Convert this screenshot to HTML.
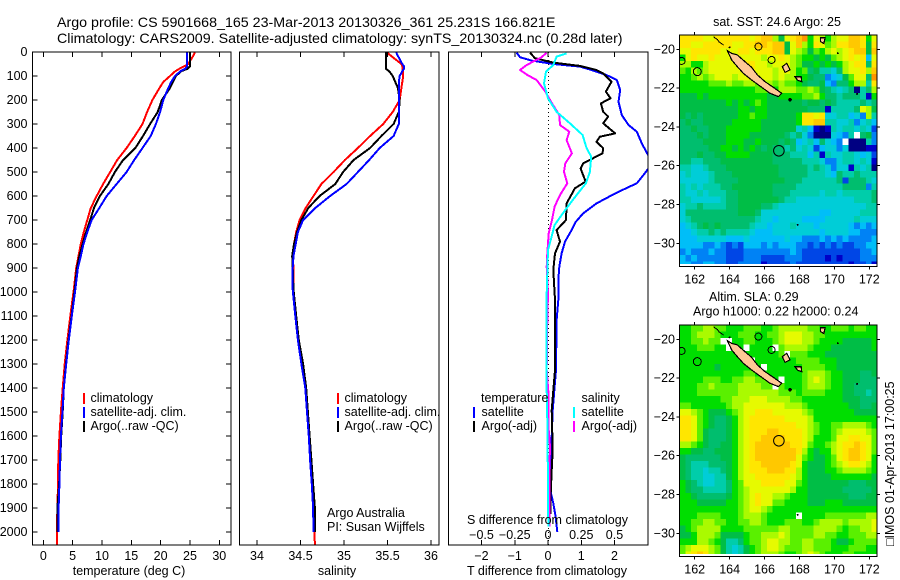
<!DOCTYPE html>
<html lang="en">
<head>
<meta charset="utf-8">
<title>Argo profile chart</title>
<style>
html,body{margin:0;padding:0;background:#fff;}
body{width:900px;height:580px;overflow:hidden;}
svg{display:block;}
text{font-family:"Liberation Sans",sans-serif;font-size:12.5px;fill:#000;}
.title{font-size:14.25px;}
</style>
</head>
<body>
<svg id="chart" xmlns="http://www.w3.org/2000/svg" width="900" height="580" viewBox="0 0 900 580">
  <defs>
    <clipPath id="clip-temp"><rect x="32" y="52" width="199" height="493"/></clipPath>
    <clipPath id="clip-sal"><rect x="239.5" y="52" width="199.5" height="493"/></clipPath>
    <clipPath id="clip-diff"><rect x="448.5" y="52" width="199.5" height="493"/></clipPath>
    <clipPath id="clip-sst"><rect x="679.5" y="35" width="197" height="229"/></clipPath>
    <clipPath id="clip-sla"><rect x="679.5" y="325" width="197" height="229"/></clipPath>
  </defs>
  <text class="title" x="57" y="27">Argo profile: CS 5901668_165 23-Mar-2013 20130326_361 25.231S 166.821E</text>
  <text class="title" x="57" y="43">Climatology: CARS2009. Satellite-adjusted climatology: synTS_20130324.nc (0.28d later)</text>
  <g id="plots"></g>

  <g>
    <rect x="83" y="393" width="2" height="11" fill="#ff0000"/>
    <text x="90.5" y="402">climatology</text>
    <rect x="83" y="407" width="2" height="11" fill="#0000ff"/>
    <text x="90.5" y="416">satellite-adj. clim.</text>
    <rect x="83" y="421" width="2" height="11" fill="#000"/>
    <text x="90.5" y="430">Argo(..raw -QC)</text>
  </g>
  <g>
    <rect x="337" y="393" width="2" height="11" fill="#ff0000"/>
    <text x="344.5" y="402">climatology</text>
    <rect x="337" y="407" width="2" height="11" fill="#0000ff"/>
    <text x="344.5" y="416">satellite-adj. clim.</text>
    <rect x="337" y="421" width="2" height="11" fill="#000"/>
    <text x="344.5" y="430">Argo(..raw -QC)</text>
  </g>
  <text x="327" y="517">Argo Australia</text>
  <text x="327" y="531">PI: Susan Wijffels</text>

  <g>
    <text x="481" y="402">temperature</text>
    <rect x="473" y="407" width="2" height="11" fill="#0000ff"/>
    <text x="481.5" y="416">satellite</text>
    <rect x="473" y="421" width="2" height="11" fill="#000"/>
    <text x="481.5" y="430">Argo(-adj)</text>
    <text x="581.5" y="402">salinity</text>
    <rect x="573" y="407" width="2" height="11" fill="#00ffff"/>
    <text x="581.5" y="416">satellite</text>
    <rect x="573" y="421" width="2" height="11" fill="#ff00ff"/>
    <text x="581.5" y="430">Argo(-adj)</text>
  </g>
  <text x="129" y="575" text-anchor="middle">temperature (deg C)</text>
  <text x="337" y="575" text-anchor="middle">salinity</text>
  <text x="547" y="575" text-anchor="middle">T difference from climatology</text>
  <text x="547.5" y="524" text-anchor="middle">S difference from climatology</text>
  <text x="777" y="26" text-anchor="middle">sat. SST: 24.6 Argo: 25</text>
  <text x="709" y="301">Altim. SLA: 0.29</text>
  <text x="693" y="315.5">Argo h1000: 0.22 h2000: 0.24</text>
  <text transform="translate(894,546) rotate(-90)" x="0" y="0">□IMOS 01-Apr-2013 17:00:25</text>
</svg>

<script>
// ---- profile data (depth levels in metres) ----
const profileDepths = [0,10,50,60,70,80,100,125,150,200,250,300,350,400,450,500,550,600,650,700,750,800,850,900,990,1100,1200,1300,1400,1500,1600,1700,1800,1900,2000,2054];
const tempClim = [25.8,25.7,24.7,24.0,23.2,22.5,21.6,20.45,19.8,18.6,17.7,16.9,15.6,14.2,12.6,11.4,10.2,9.1,8.1,7.5,6.9,6.4,6.0,5.6,5.2,4.6,4.1,3.65,3.3,3.0,2.75,2.55,2.5,2.4,2.3,2.3];
const tempSat = [24.5,24.5,24.5,24.5,24.2,23.4,22.45,21.8,21.3,20.45,19.9,19.2,18.3,16.9,15.5,14.2,12.5,10.8,9.55,8.25,7.5,6.85,6.4,5.9,5.45,4.85,4.35,3.9,3.5,3.25,3.0,2.85,2.75,2.6,2.6,null];
const tempArgo = [25,25,25,25,24.6,23.5,22.6,22.1,21.6,20.2,19.5,18.2,17,15.7,13.6,12.2,11.1,9.65,8.65,8,7.3,6.7,6.15,5.75,5.35,4.8,4.3,3.85,3.5,3.3,3.05,2.9,2.7,2.4,2.4,null];
const salClim = [35.5,35.52,35.66,35.67,35.67,35.68,35.68,35.67,35.66,35.64,35.56,35.45,35.3,35.16,35.01,34.88,34.74,34.65,34.56,34.49,34.45,34.425,34.41,34.42,34.42,34.45,34.48,34.52,34.56,34.58,34.6,34.62,34.64,34.65,34.66,34.665];
const salSat = [35.6,35.61,35.67,35.69,35.69,35.67,35.64,35.63,35.63,35.63,35.63,35.63,35.57,35.41,35.29,35.16,35.03,34.84,34.67,34.53,34.47,34.445,34.42,34.41,34.41,34.44,34.47,34.51,34.555,34.575,34.595,34.61,34.63,34.645,34.65,null];
const salArgo = [35.48,35.48,35.48,35.48,35.48,35.52,35.56,35.59,35.62,35.64,35.63,35.57,35.43,35.3,35.11,34.99,34.9,34.72,34.59,34.51,34.46,34.425,34.405,34.41,34.42,34.45,34.48,34.53,34.565,34.585,34.605,34.625,34.645,34.665,34.665,null];

// ---- difference profiles (each with its own depth levels) ----
const dtSatDepths = [3,22,36,50,61,75,96,117,158,207,263,304,332,381,432,457,485,513,547,586,631,672,707,742,790,839,895,950,1033,1117,1325,1492,1603,1742,1839,1880,1936,2000];
const dtSatValues = [-0.94,-0.84,-0.49,0.16,0.96,1.31,1.76,2.07,2.17,2.12,2.22,2.42,2.67,2.82,3.02,3.1,3.02,2.87,2.67,2.07,1.46,1.06,0.84,0.71,0.51,0.41,0.34,0.31,0.31,0.26,0.24,0.14,0.11,0.09,0.09,0.16,0.23,0.28];
const dtArgoDepths = [3,26,44,58,75,89,124,165,193,214,249,269,297,339,353,374,401,422,464,485,540,568,631,700,742,790,839,908,1033,1117,1325,1492,1658,1742,1839,1925];
const dtArgoValues = [-0.54,-0.39,0.16,0.96,1.46,1.66,1.91,1.74,1.88,1.59,1.66,1.81,1.66,2.02,1.56,1.46,1.66,1.64,1.06,0.98,1.13,0.81,0.56,0.54,0.26,0.36,0.21,0.16,0.21,0.21,0.21,0.11,0.14,0.11,0.08,0.08];
const dsArgoDepths = [3,22,54,75,96,117,165,214,263,304,332,367,422,464,499,547,596,644,700,756,839,895,1006,1117,1325,1436,1575,1645,1742,1978];
const dsArgoValues = [-0.01,-0.05,-0.16,-0.21,-0.155,-0.085,-0.02,0.03,0.085,0.09,0.16,0.14,0.18,0.13,0.12,0.145,0.09,0.05,0.03,0.005,-0.005,-0.01,0,-0.005,-0.01,0.005,0.005,0.015,0.01,0.01];
const dsSatDepths = [6,19,54,82,131,193,249,297,346,401,436,499,547,603,658,721,763,825,922,1006,1117,1325,1408,1533,1645,1742,1978];
const dsSatValues = [0.14,0.065,0.04,-0.015,-0.03,0,0.065,0.165,0.26,0.29,0.325,0.315,0.285,0.205,0.13,0.05,0.03,0,-0.005,-0.01,-0.01,-0.01,-0.01,-0.005,-0.005,0,0.002];

// ---- tick labels ----
const depthTicks = [0,100,200,300,400,500,600,700,800,900,1000,1100,1200,1300,1400,1500,1600,1700,1800,1900,2000];
const tempTicks = [0,5,10,15,20,25,30];
const salTicks = [34,34.5,35,35.5,36];
const dtTicks = [-2,-1,0,1,2];
const dsTicks = [-0.5,-0.25,0,0.25,0.5];
const lonTicks = [162,164,166,168,170,172];
const latTicks = [-20,-22,-24,-26,-28,-30];

// ---- map values: colour-scale levels, rows north to south, 1/3 degree cells, -1 = no data ----
const sstLevels = [
[13,13,13,13,12,12,13,13,13,13,13,13,12,13,14,14,11,8,12,13,14,15,9,12,11,9,11,12,12,14,14,13,9,12],
[13,13,12,12,13,13,13,13,13,12,12,13,13,14,14,13,14,14,8,12,14,11,9,13,12,10,11,13,13,14,14,13,8,13],
[12,12,13,13,13,13,13,12,12,12,13,13,12,13,13,13,14,14,8,12,11,10,8,10,9,11,12,11,12,13,14,14,8,14],
[9,12,13,12,12,13,12,12,12,12,12,12,12,12,11,12,12,13,12,11,10,9,9,8,9,8,10,11,12,13,12,13,4,12],
[11,11,9,9,11,12,12,12,12,12,12,13,13,12,12,11,12,12,12,11,10,8,8,9,8,9,8,9,11,12,13,13,7,13],
[10,9,11,10,11,12,12,12,12,12,12,12,13,12,12,12,11,12,12,11,9,10,7,8,6,6,5,7,11,12,12,13,11,14],
[9,9,10,11,10,11,12,12,12,11,12,12,12,12,12,12,11,12,11,11,9,9,8,7,7,3,4,5,8,10,12,12,7,15],
[9,9,9,9,9,10,10,10,11,10,10,11,11,10,11,11,10,11,10,10,9,8,7,7,8,4,3,7,7,9,11,11,6,13],
[9,9,9,9,9,9,9,9,9,9,9,9,9,10,10,10,9,11,11,11,10,10,11,10,8,7,6,5,6,7,0,6,7,11],
[8,8,8,9,8,9,9,9,9,9,9,9,9,9,9,8,8,9,9,9,9,10,10,11,9,7,7,6,7,7,7,6,1,9],
[8,8,8,8,8,8,8,8,9,8,9,8,9,10,9,8,8,8,8,8,8,7,8,8,7,8,7,6,6,6,6,7,6,7],
[8,8,8,8,8,8,8,8,8,8,9,9,8,9,9,8,8,8,8,8,8,8,7,7,7,1,6,6,6,6,7,12,11,8],
[8,7,8,7,8,8,8,8,8,8,9,9,10,9,9,8,8,8,8,8,9,13,13,12,13,5,5,6,6,4,5,3,11,6],
[7,8,7,7,8,8,8,8,8,9,9,9,9,9,8,8,8,8,8,8,9,13,13,14,14,6,6,5,5,6,3,5,6,4],
[7,7,8,7,7,8,8,8,9,9,9,9,9,9,8,8,8,8,8,8,5,6,4,1,0,1,6,5,6,6,5,6,5,2],
[7,7,7,8,7,8,8,8,9,9,9,9,8,8,8,8,8,8,7,6,7,5,3,0,0,0,5,4,3,6,-1,7,8,3],
[7,7,7,7,8,8,8,8,9,9,9,8,8,9,8,8,8,7,8,7,4,5,6,4,7,5,4,3,-1,0,0,0,6,3],
[7,7,7,7,7,8,8,9,9,8,9,8,9,8,7,8,7,7,6,7,5,6,5,2,4,5,5,3,5,0,0,0,1,1],
[7,7,7,8,7,7,8,8,9,9,9,9,8,8,8,8,7,7,7,6,6,6,4,6,1,6,5,5,6,6,5,4,5,2],
[7,7,6,6,7,7,7,8,8,8,8,8,8,8,8,8,7,7,7,7,7,6,6,6,5,3,3,5,6,6,5,6,5,1],
[6,6,5,5,6,7,7,7,8,8,8,8,8,8,8,8,8,7,7,7,7,7,6,7,6,5,3,5,5,1,6,5,6,0],
[5,6,5,5,5,6,7,7,7,8,8,8,8,8,8,8,8,7,7,7,7,7,6,6,6,5,4,7,6,6,7,6,6,6],
[5,5,5,5,5,6,7,7,7,7,8,8,8,8,8,8,8,8,7,7,7,6,6,6,6,6,6,7,2,7,7,7,6,5],
[6,5,6,5,6,6,6,7,7,8,8,8,8,8,8,8,7,7,7,7,6,6,6,6,6,6,6,6,7,7,7,7,3,6],
[6,5,5,6,5,6,6,6,7,7,8,8,8,8,8,8,7,7,7,6,6,6,6,6,5,6,6,5,6,6,6,6,6,7],
[6,6,5,5,5,5,5,6,7,7,8,8,8,8,8,8,8,7,6,6,5,5,5,5,5,5,5,5,5,5,6,6,6,7],
[5,6,6,7,6,6,6,6,7,7,8,8,8,8,7,7,6,5,5,5,5,5,5,5,5,5,5,5,5,5,5,5,6,6],
[5,7,7,7,7,7,7,7,7,7,8,8,8,7,5,5,5,5,5,5,5,5,5,5,4,4,5,5,5,5,5,6,6,6],
[5,6,7,7,7,7,7,7,7,7,7,7,7,6,5,5,4,5,5,5,5,4,4,4,4,5,5,5,5,5,6,5,5,5],
[4,5,6,7,8,7,8,7,7,7,7,7,6,5,5,4,5,5,5,6,5,5,5,4,5,5,5,5,5,4,3,4,3,4],
[4,4,5,6,6,7,6,7,6,6,6,6,5,4,4,4,5,5,5,5,5,5,5,5,4,5,5,5,5,4,4,3,3,3],
[4,4,4,5,5,5,5,5,4,4,4,5,4,4,4,4,4,4,5,4,4,3,3,3,4,3,4,3,4,3,3,3,3,4],
[4,4,4,4,3,3,4,3,2,3,2,4,4,4,3,4,3,4,4,4,3,3,2,3,2,3,2,3,2,2,3,3,4,4],
[3,4,3,3,3,4,3,3,2,2,2,3,3,3,3,3,3,3,3,4,3,2,2,2,2,2,2,2,2,2,2,3,3,4],
[4,3,4,3,3,3,3,3,2,2,2,3,3,3,2,2,2,2,3,3,3,2,2,2,2,1,2,1,2,2,2,3,3,3],
[4,4,3,3,4,4,3,3,2,2,3,3,3,3,1,2,2,2,2,3,2,2,2,2,2,2,2,2,2,1,2,2,3,1]
];
const slaLevels = [
[9,9,10,10,11,11,10,10,9,9,9,10,10,10,9,9,10,11,11,11,11,11,10,10,9,9,10,10,10,9,10,10,9,9],
[9,9,10,11,11,11,10,9,9,9,10,10,10,9,9,10,10,11,12,12,12,11,11,10,10,9,9,9,9,9,9,9,9,9],
[9,9,10,10,11,10,10,-1,-1,9,9,10,10,9,9,9,10,11,12,12,12,11,11,10,9,9,9,9,8,8,8,8,8,9],
[9,9,9,10,10,10,9,9,-1,-1,9,-1,9,9,9,9,-1,10,11,11,11,11,10,9,9,9,8,8,8,8,8,8,8,9],
[9,9,9,9,9,9,9,9,9,9,9,9,9,9,9,9,9,10,-1,10,10,10,9,9,9,8,8,8,8,8,8,8,8,8],
[9,9,9,9,9,9,9,9,9,9,9,9,-1,9,9,9,9,9,9,9,10,10,10,10,9,9,9,8,8,8,8,8,8,8],
[9,9,9,9,9,9,8,9,9,9,9,9,9,9,-1,9,9,9,9,9,9,10,10,10,10,9,9,8,8,8,8,8,8,8],
[9,9,9,9,9,9,9,9,9,9,9,10,10,9,9,9,9,9,9,9,9,10,11,11,11,10,9,9,8,8,8,7,7,8],
[9,9,9,9,10,10,10,9,9,10,10,11,11,10,10,10,9,-1,9,9,9,10,11,12,11,10,9,9,8,8,8,7,7,7],
[9,9,9,10,10,11,10,10,10,10,11,11,11,11,10,10,-1,10,9,9,9,10,11,11,11,10,9,9,8,8,7,7,7,7],
[9,9,9,10,10,10,10,10,10,10,11,11,11,11,11,11,11,10,10,10,9,10,10,10,10,9,9,9,8,8,7,7,6,7],
[9,9,9,9,9,9,9,10,10,11,11,11,12,12,12,11,11,11,11,10,10,9,9,9,9,9,9,9,8,8,8,7,7,7],
[10,10,9,9,9,9,9,9,10,11,11,12,12,12,12,12,12,12,11,11,11,10,9,9,9,9,9,9,9,8,8,7,7,8],
[12,12,11,10,9,8,8,8,9,10,11,12,12,13,13,13,12,12,12,12,12,11,10,9,9,9,9,9,9,9,8,8,8,8],
[13,13,12,10,9,8,7,7,8,9,11,12,13,13,13,13,13,13,12,12,12,12,11,9,9,9,9,9,9,9,9,9,9,9],
[13,13,12,10,9,8,7,7,8,9,11,12,13,13,13,13,13,13,13,13,12,12,11,10,9,9,10,10,11,11,11,11,10,9],
[13,13,12,10,8,7,7,7,8,9,11,12,13,13,13,14,14,13,13,13,13,12,11,10,9,9,10,11,12,12,12,12,11,10],
[13,13,12,10,8,7,7,7,8,9,11,12,13,13,14,14,14,14,13,13,13,12,11,9,9,9,10,12,12,13,13,12,12,10],
[11,11,10,9,8,7,7,8,8,9,11,12,13,14,14,14,14,14,14,13,13,12,10,9,9,10,11,12,13,13,14,13,12,10],
[9,9,8,8,7,7,8,8,8,9,11,12,13,14,14,14,14,14,14,14,13,11,9,8,9,9,11,12,13,14,14,13,12,10],
[8,7,7,7,7,7,7,8,8,9,11,12,13,14,14,14,14,14,14,14,12,10,9,8,8,9,10,12,13,14,14,13,12,9],
[8,7,6,6,6,7,7,7,8,9,11,12,13,13,14,14,14,14,14,13,12,9,8,8,8,9,10,11,12,13,13,12,11,9],
[8,7,6,6,5,6,6,7,8,9,11,12,13,13,13,14,14,14,13,13,11,9,8,8,8,9,9,10,11,11,11,11,10,9],
[8,7,6,6,5,5,6,6,8,9,11,12,12,13,13,13,13,13,13,12,11,9,8,8,8,8,9,9,9,9,9,9,9,8],
[9,8,7,6,5,5,6,6,7,9,10,12,12,12,13,13,13,13,12,12,10,9,8,8,8,8,8,8,8,7,7,7,8,8],
[9,8,7,7,6,6,6,6,7,9,10,11,12,12,12,12,12,12,12,11,9,9,8,8,8,8,8,8,7,7,7,7,7,8],
[9,9,8,7,7,7,7,7,8,9,10,11,12,13,12,12,11,11,10,9,9,9,8,8,8,8,8,8,8,7,7,7,8,8],
[9,9,9,8,8,8,8,8,9,9,10,11,12,13,12,12,10,10,9,9,9,9,8,8,8,9,9,9,8,8,8,8,8,8],
[9,9,9,9,9,9,9,9,9,9,10,11,12,12,11,10,9,9,9,9,9,9,9,9,9,9,9,9,9,9,9,9,9,9],
[9,9,9,10,10,10,10,9,9,9,10,11,11,11,10,9,9,9,9,9,-1,9,9,9,9,10,10,10,10,10,10,10,11,11],
[9,9,10,10,11,11,10,10,9,9,10,10,11,11,10,9,9,9,10,10,10,9,9,10,11,11,11,11,10,11,11,11,11,12],
[8,9,10,11,11,11,11,9,9,9,9,10,10,10,10,10,10,11,11,10,10,10,10,11,11,11,11,10,9,10,10,11,11,12],
[8,8,9,11,11,11,10,8,8,8,8,9,10,10,11,11,11,12,11,10,10,10,10,11,11,10,10,9,9,10,10,10,11,11],
[9,9,9,11,11,10,9,8,6,6,7,9,10,10,11,12,12,11,11,10,10,11,11,10,10,10,9,8,8,9,10,10,10,10],
[10,11,12,12,12,11,10,8,6,5,6,8,9,10,11,12,12,11,10,10,10,11,11,10,10,10,9,9,9,10,10,10,9,9],
[10,12,13,14,13,11,10,8,6,5,6,8,9,10,11,11,11,10,9,9,10,11,12,11,10,9,9,9,10,10,9,9,9,9]
];

// ---- coastline geography (lon, lat) ----
const mainIslandLon = [163.87,164.12,164.44,164.88,165.26,165.59,166.03,166.50,166.98,166.79,166.31,165.84,165.26,164.79,164.44,164.12];
const mainIslandLat = [-20.07,-20.21,-20.29,-20.64,-20.93,-21.32,-21.67,-21.96,-22.27,-22.44,-22.27,-21.96,-21.58,-21.24,-20.89,-20.55];
const ouveaLon = [167.02,167.27,167.46,167.17];
const ouveaLat = [-20.89,-20.72,-21.06,-21.19];
const lifouLon = [167.74,168.1,168.13,167.9];
const lifouLat = [-21.41,-21.42,-21.67,-21.6];
const vanuatuLon = [169.2,169.47,169.4,169.2];
const vanuatuLat = [-19.4,-19.4,-19.7,-19.6];
const reefLon = [163.07,163.3,163.4,163.65];
const reefLat = [-19.35,-19.5,-19.62,-19.78];
const ringIslandLon = [165.65,166.4,162.15,161.25];
const ringIslandLat = [-19.86,-20.55,-21.15,-20.6];
const ringIslandRadius = [3.5,3.5,4,3.5];
const dotIslandLon = [167.46,167.9,164.0,170.2,171.3];
const dotIslandLat = [-22.6,-29.05,-19.9,-20.2,-22.3];
const argoLon = 166.821;
const argoLat = -25.231;

const palette = ['#000082','#0000c8','#0046e6','#0082f5','#00bef8','#00cdd7','#00cdaa','#00be6e','#00be46','#00de00','#5af000','#aafa00','#e6fa00','#ffe600','#ffc800','#ff9600'];

// ---- axis functions ----
const yDepth = d => 52 + d * 0.24;
const xTemp = t => 43.3 + t * 5.867;
const xSal = s => 257 + (s - 34) * 87;
const xDiffT = v => 548 + v * 33.25;
const xDiffS = v => 548 + v * 133;
const xLon = lon => 694.7 + (lon - 162) * 17.46;
const yLatSst = lat => 49.3 + (-20 - lat) * 19.4;
const yLatSla = lat => 339.3 + (-20 - lat) * 19.4;

const NS = 'http://www.w3.org/2000/svg';
const plots = document.getElementById('plots');

function make(tag, parent, name, attrs) {
  const el = document.createElementNS(NS, tag);
  
  
  for (const k in attrs) el.setAttribute(k, attrs[k]);
  parent.appendChild(el);
  return el;
}
function tickLine(parent, name, x1, y1, x2, y2) {
  make('line', parent, name, {x1: x1, y1: y1, x2: x2, y2: y2, stroke: '#000', 'stroke-width': 1, 'shape-rendering': 'crispEdges'});
}
function label(parent, name, x, y, str, anchor) {
  const t = make('text', parent, name, {x: x, y: y, 'text-anchor': anchor || 'middle'});
  t.textContent = str;
  return t;
}
function fmtMinus(v) { return String(v).replace('-', '\u2212'); }

function drawProfile(parent, name, depths, values, xFn, colour, clip) {
  const pts = [];
  for (let i = 0; i < depths.length; i++) {
    if (values[i] === null) continue;
    pts.push(xFn(values[i]).toFixed(1) + ',' + yDepth(depths[i]).toFixed(1));
  }
  make('polyline', parent, name, {points: pts.join(' '), fill: 'none', stroke: colour, 'stroke-width': 2, 'stroke-linejoin': 'round', 'shape-rendering': 'crispEdges', 'clip-path': 'url(#' + clip + ')'});
}
function panelBox(parent, name, x, w) {
  make('rect', parent, name, {x: x, y: 52, width: w, height: 493, fill: 'none', stroke: '#000', 'stroke-width': 1, 'shape-rendering': 'crispEdges'});
}

// temperature panel
const gTemp = make('g', plots, 'temperature-panel', {});
drawProfile(gTemp, 'temperature-climatology-line', profileDepths, tempClim, xTemp, '#ff0000', 'clip-temp');
drawProfile(gTemp, 'temperature-argo-line', profileDepths, tempArgo, xTemp, '#000000', 'clip-temp');
drawProfile(gTemp, 'temperature-satellite-line', profileDepths, tempSat, xTemp, '#0000ff', 'clip-temp');
panelBox(gTemp, 'temperature-panel-frame', 32.5, 198.5);
depthTicks.forEach(d => {
  tickLine(gTemp, 'depth-tick-left', 32.5, yDepth(d), 37.5, yDepth(d));
  tickLine(gTemp, 'depth-tick-right', 226, yDepth(d), 231, yDepth(d));
  label(gTemp, 'depth-tick-label', 27.5, yDepth(d) + 4, d, 'end');
});
tempTicks.forEach(t => {
  tickLine(gTemp, 'temperature-tick-top', xTemp(t), 52, xTemp(t), 57);
  tickLine(gTemp, 'temperature-tick-bottom', xTemp(t), 540, xTemp(t), 545);
  label(gTemp, 'temperature-tick-label', xTemp(t), 560, t);
});

// salinity panel
const gSal = make('g', plots, 'salinity-panel', {});
drawProfile(gSal, 'salinity-climatology-line', profileDepths, salClim, xSal, '#ff0000', 'clip-sal');
drawProfile(gSal, 'salinity-argo-line', profileDepths, salArgo, xSal, '#000000', 'clip-sal');
drawProfile(gSal, 'salinity-satellite-line', profileDepths, salSat, xSal, '#0000ff', 'clip-sal');
panelBox(gSal, 'salinity-panel-frame', 239.5, 199.5);
salTicks.forEach(s => {
  tickLine(gSal, 'salinity-tick-top', xSal(s), 52, xSal(s), 57);
  tickLine(gSal, 'salinity-tick-bottom', xSal(s), 540, xSal(s), 545);
  label(gSal, 'salinity-tick-label', xSal(s), 560, s);
});

// difference panel
const gDiff = make('g', plots, 'difference-panel', {});
make('line', gDiff, 'zero-difference-line', {x1: 548.5, y1: 52, x2: 548.5, y2: 545, stroke: '#000', 'stroke-width': 1, 'stroke-dasharray': '1 3', 'shape-rendering': 'crispEdges'});
drawProfile(gDiff, 'temperature-diff-satellite-line', dtSatDepths, dtSatValues, xDiffT, '#0000ff', 'clip-diff');
drawProfile(gDiff, 'temperature-diff-argo-line', dtArgoDepths, dtArgoValues, xDiffT, '#000000', 'clip-diff');
drawProfile(gDiff, 'salinity-diff-argo-line', dsArgoDepths, dsArgoValues, xDiffS, '#ff00ff', 'clip-diff');
drawProfile(gDiff, 'salinity-diff-satellite-line', dsSatDepths, dsSatValues, xDiffS, '#00ffff', 'clip-diff');
panelBox(gDiff, 'difference-panel-frame', 448.5, 199.5);
dtTicks.forEach(v => {
  tickLine(gDiff, 't-diff-tick-top', xDiffT(v), 52, xDiffT(v), 57);
  tickLine(gDiff, 't-diff-tick-bottom', xDiffT(v), 540, xDiffT(v), 545);
  label(gDiff, 't-diff-tick-label', xDiffT(v), 560, fmtMinus(v));
});
dsTicks.forEach(v => {
  label(gDiff, 's-diff-tick-label', xDiffS(v), 539, fmtMinus(v));
});

// maps
function drawMap(name, levels, top, yLat, clip) {
  const g = make('g', plots, name, {});
  const cells = make('g', g, name + '-cells', {'clip-path': 'url(#' + clip + ')', 'shape-rendering': 'crispEdges'});
  const cw = 17.46 / 3, ch = 19.4 / 3;
  const x0 = xLon(162) - 2.6 * cw, y0 = top;
  levels.forEach((row, r) => {
    row.forEach((v, c) => {
      const rect = document.createElementNS(NS, 'rect');
      
      
      rect.setAttribute('x', (x0 + c * cw).toFixed(2));
      rect.setAttribute('y', (y0 + r * ch).toFixed(2));
      rect.setAttribute('width', (cw + 0.4).toFixed(2));
      rect.setAttribute('height', (ch + 0.4).toFixed(2));
      rect.setAttribute('fill', v < 0 ? '#ffffff' : palette[v]);
      cells.appendChild(rect);
    });
  });
  const coast = make('g', g, name + '-coastline', {'clip-path': 'url(#' + clip + ')', 'shape-rendering': 'crispEdges'});
  function land(lons, lats, landName) {
    const pts = lons.map((lon, i) => xLon(lon).toFixed(1) + ',' + yLat(lats[i]).toFixed(1)).join(' ');
    make('polygon', coast, landName, {points: pts, fill: '#ffc896', stroke: '#000', 'stroke-width': 1.2});
  }
  land(mainIslandLon, mainIslandLat, 'new-caledonia-island');
  land(ouveaLon, ouveaLat, 'ouvea-island');
  land(lifouLon, lifouLat, 'lifou-island');
  land(vanuatuLon, vanuatuLat, 'vanuatu-island');
  make('polyline', coast, 'reef-outline', {points: reefLon.map((lon, i) => xLon(lon).toFixed(1) + ',' + yLat(reefLat[i]).toFixed(1)).join(' '), fill: 'none', stroke: '#000', 'stroke-width': 1});
  ringIslandLon.forEach((lon, i) => {
    make('circle', coast, 'reef-ring', {cx: xLon(lon), cy: yLat(ringIslandLat[i]), r: ringIslandRadius[i], fill: 'none', stroke: '#000', 'stroke-width': 1});
  });
  dotIslandLon.forEach((lon, i) => {
    make('circle', coast, 'small-island', {cx: xLon(lon), cy: yLat(dotIslandLat[i]), r: i === 0 ? 1.8 : 1, fill: '#000'});
  });
  make('circle', g, name + '-argo-marker', {cx: xLon(argoLon), cy: yLat(argoLat), r: 5.3, fill: 'none', stroke: '#000', 'stroke-width': 1});
  const bottom = top + 231.7;
  make('rect', g, name + '-frame', {x: 679.5, y: top, width: 197.5, height: 231.7, fill: 'none', stroke: '#000', 'stroke-width': 1, 'shape-rendering': 'crispEdges'});
  lonTicks.forEach(lon => {
    tickLine(g, 'longitude-tick-top', xLon(lon), top - 3, xLon(lon), top);
    tickLine(g, 'longitude-tick-bottom', xLon(lon), bottom, xLon(lon), bottom + 3);
    label(g, 'longitude-tick-label', xLon(lon), bottom + 17, lon);
  });
  latTicks.forEach(lat => {
    tickLine(g, 'latitude-tick-left', 676.5, yLat(lat), 679.5, yLat(lat));
    tickLine(g, 'latitude-tick-right', 877, yLat(lat), 880, yLat(lat));
    label(g, 'latitude-tick-label', 675, yLat(lat) + 4, fmtMinus(lat), 'end');
  });
}
drawMap('sst-map', sstLevels, 35, yLatSst, 'clip-sst');
drawMap('sla-map', slaLevels, 325, yLatSla, 'clip-sla');
</script>
</body>
</html>
